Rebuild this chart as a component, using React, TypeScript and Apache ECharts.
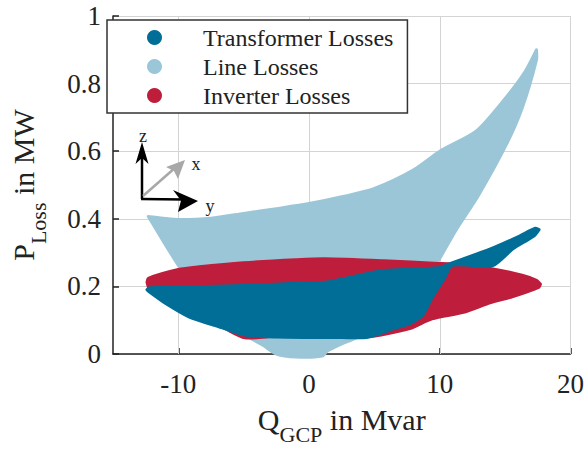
import React, { useEffect, useRef } from "react";
import * as echarts from "echarts";

const FONT = "Liberation Serif, serif";

// Series names
const seriesNames = ["Transformer Losses", "Line Losses", "Inverter Losses"];
const seriesColors = ["#006e96", "#9bc6d7", "#be1e3c"];

// Axis ticks
const xTicks = [-10, 0, 10, 20];
const yTicks = [0, 0.2, 0.4, 0.6, 0.8, 1];

// Line losses: boundary of the point cloud (Q in Mvar, P in MW)
const lineLossUpper = [
  [-12.3, 0.407], [-11, 0.401], [-10, 0.398], [-7.5, 0.402], [-5, 0.416], [-2.5, 0.43],
  [0, 0.445], [2.5, 0.465], [5, 0.49], [8, 0.545], [10, 0.6], [12.8, 0.66], [15, 0.756],
  [16.5, 0.834], [17.4, 0.9],
];
const lineLossLower = [
  [-12.3, 0.407], [-9.9, 0.256], [-8, 0.16], [-6, 0.1], [-4.7, 0.052], [-3.5, 0.025],
  [-2.5, 0.0], [-1, -0.009], [1, -0.006], [1.4, 0.009], [2.5, 0.03], [3.7, 0.049],
  [5, 0.08], [7, 0.13], [8.5, 0.19], [9.9, 0.276], [11.3, 0.37], [12.9, 0.465],
  [15.1, 0.62], [16.3, 0.727], [17.4, 0.87], [17.4, 0.9],
];

// Inverter losses
const inverterUpper = [
  [-12.4, 0.212], [-12.3, 0.224], [-10, 0.25], [-8.4, 0.258], [-5, 0.27], [-1, 0.279],
  [1.2, 0.282], [5.7, 0.276], [9.9, 0.268], [10.67, 0.267], [13.87, 0.253], [16.3, 0.233],
  [17.4, 0.218], [17.7, 0.207],
];
const inverterLower = [
  [-12.4, 0.212], [-12.2, 0.19], [-11, 0.155], [-9.2, 0.115], [-6.7, 0.08], [-4.9, 0.048],
  [-2.5, 0.053], [0, 0.053], [2.5, 0.053], [4.4, 0.051], [5.5, 0.056], [7.7, 0.075],
  [9.4, 0.104], [11.9, 0.124], [13.9, 0.152], [15.6, 0.17], [17.6, 0.198], [17.7, 0.207],
];

// Transformer losses
const transformerUpper = [
  [-12.4, 0.19], [-12.2, 0.196], [-9.2, 0.198], [-5, 0.203], [-1, 0.209], [1.2, 0.212],
  [3.5, 0.23], [5.7, 0.247], [9.9, 0.255], [10.67, 0.266], [13.87, 0.311], [16.1, 0.349],
  [17.3, 0.372], [17.6, 0.368],
];
const transformerLower = [
  [-12.4, 0.19], [-12.2, 0.183], [-11, 0.15], [-9.2, 0.11], [-6.7, 0.078], [-4.9, 0.056],
  [-2.5, 0.05], [0, 0.049], [2.5, 0.049], [4.4, 0.049], [6.7, 0.078], [7.7, 0.09],
  [8.7, 0.115], [9.4, 0.166], [10.4, 0.227], [10.9, 0.262], [12.5, 0.262], [14.1, 0.262],
  [15.6, 0.311], [17.2, 0.349], [17.6, 0.368],
];

function ring(upper: number[][], lower: number[][]) {
  return upper.concat(lower.slice().reverse());
}

function regionSeries(name: string, pts: number[][], color: string, z: number) {
  return {
    type: "custom",
    name,
    z,
    coordinateSystem: "cartesian2d",
    silent: true,
    clip: false,
    itemStyle: { color },
    data: [pts[0]],
    renderItem: (_params: any, api: any) => ({
      type: "polygon",
      shape: { points: pts.map((p) => api.coord(p)), smooth: 0.25 },
      style: { fill: color, stroke: color, lineWidth: 3, lineJoin: "round" },
    }),
  };
}

export default function App() {
  const ref = useRef<HTMLDivElement>(null);
  useEffect(() => {
    if (!ref.current) return;
    const chart = echarts.init(ref.current, null, { renderer: "svg" });
    const textColor = "#222";
    const gridColor = "#d4d4d4";
    const option: any = {
      animation: false,
      grid: { left: 101, right: 15, top: 16, bottom: 90 },
      legend: {
        orient: "vertical",
        left: 107,
        top: 20,
        data: seriesNames,
        icon: "circle",
        itemWidth: 15,
        itemHeight: 15,
        itemGap: 0,
        padding: [3, 14, 3, 40],
        backgroundColor: "#fff",
        borderColor: "#333",
        borderWidth: 1.5,
        borderRadius: 0,
        selectedMode: false,
        textStyle: { fontFamily: FONT, fontSize: 24, color: textColor, lineHeight: 29, padding: [0, 0, 0, 36] },
      },
      xAxis: {
        type: "value",
        min: -15,
        max: 20,
        name: "{m|Q}{s|GCP}{m| in Mvar}",
        nameLocation: "middle",
        nameGap: 50,
        nameTextStyle: {
          fontFamily: FONT,
          color: textColor,
          rich: {
            m: { fontFamily: FONT, fontSize: 30, color: textColor, padding: [0, 0, 15, 0] },
            s: { fontFamily: FONT, fontSize: 22, color: textColor, padding: [15, 0, 0, 0] },
          },
        },
        axisLine: { show: true, onZero: false, lineStyle: { color: "#222", width: 1.5 } },
        axisTick: { show: true, inside: true, length: 6, customValues: xTicks, lineStyle: { color: "#222", width: 1.5 } },
        axisLabel: { customValues: xTicks, fontFamily: FONT, fontSize: 27, color: textColor, margin: 16 },
        splitLine: { show: false },
      },
      yAxis: {
        type: "value",
        min: 0,
        max: 1,
        interval: 0.2,
        name: "{m|P}{s|Loss}{m| in MW}",
        nameLocation: "middle",
        nameGap: 60,
        nameTextStyle: {
          fontFamily: FONT,
          color: textColor,
          rich: {
            m: { fontFamily: FONT, fontSize: 30, color: textColor, padding: [0, 0, 15, 0] },
            s: { fontFamily: FONT, fontSize: 22, color: textColor, padding: [15, 0, 0, 0] },
          },
        },
        axisLine: { show: true, onZero: false, lineStyle: { color: "#222", width: 1.5 } },
        axisTick: { show: true, inside: true, length: 6, lineStyle: { color: "#222", width: 1.5 } },
        axisLabel: { fontFamily: FONT, fontSize: 27, color: textColor, margin: 12 },
        splitLine: { show: true, lineStyle: { color: gridColor, width: 1, type: "solid" } },
      },
      series: [
        {
          type: "line",
          name: "grid",
          z: 1,
          silent: true,
          data: yTicks.map((v) => [xTicks[0], v]),
          lineStyle: { opacity: 0 },
          symbol: "none",
          markLine: {
            silent: true,
            z: 1,
            symbol: "none",
            label: { show: false },
            lineStyle: { color: gridColor, type: "solid", width: 1 },
            data: xTicks.map((v) => ({ xAxis: v })),
          },
        },
        regionSeries(seriesNames[1], ring(lineLossUpper, lineLossLower), seriesColors[1], 2),
        regionSeries(seriesNames[2], ring(inverterUpper, inverterLower), seriesColors[2], 3),
        regionSeries(seriesNames[0], ring(transformerUpper, transformerLower), seriesColors[0], 4),
      ],
      graphic: [
        { type: "line", z: 10, shape: { x1: 142, y1: 199, x2: 142, y2: 156 }, style: { stroke: "#000", lineWidth: 2.5 } },
        { type: "polygon", z: 10, shape: { points: [[142, 142], [135.5, 164], [142, 158], [148.5, 164]] }, style: { fill: "#000" } },
        { type: "line", z: 10, shape: { x1: 143, y1: 196, x2: 176, y2: 167 }, style: { stroke: "#a8a8a8", lineWidth: 2.5 } },
        { type: "polygon", z: 10, shape: { points: [[185, 160], [166, 167], [174, 171], [178, 179]] }, style: { fill: "#a8a8a8" } },
        { type: "line", z: 10, shape: { x1: 141, y1: 199, x2: 184, y2: 199.5 }, style: { stroke: "#000", lineWidth: 2.5 } },
        { type: "polygon", z: 10, shape: { points: [[198, 201], [173, 190], [181, 200.5], [178, 212]] }, style: { fill: "#000" } },
        { type: "text", z: 10, style: { text: "z", x: 143, y: 136, fontFamily: FONT, fontSize: 18, fill: "#222", align: "center", verticalAlign: "middle" } },
        { type: "text", z: 10, style: { text: "x", x: 196, y: 164, fontFamily: FONT, fontSize: 18, fill: "#222", align: "center", verticalAlign: "middle" } },
        { type: "text", z: 10, style: { text: "y", x: 210, y: 206, fontFamily: FONT, fontSize: 18, fill: "#222", align: "center", verticalAlign: "middle" } },
      ],
    };
    chart.setOption(option);
    return () => chart.dispose();
  }, []);
  return <div ref={ref} style={{ width: 587, height: 450, position: "absolute", left: 0, top: 0 }} />;
}
